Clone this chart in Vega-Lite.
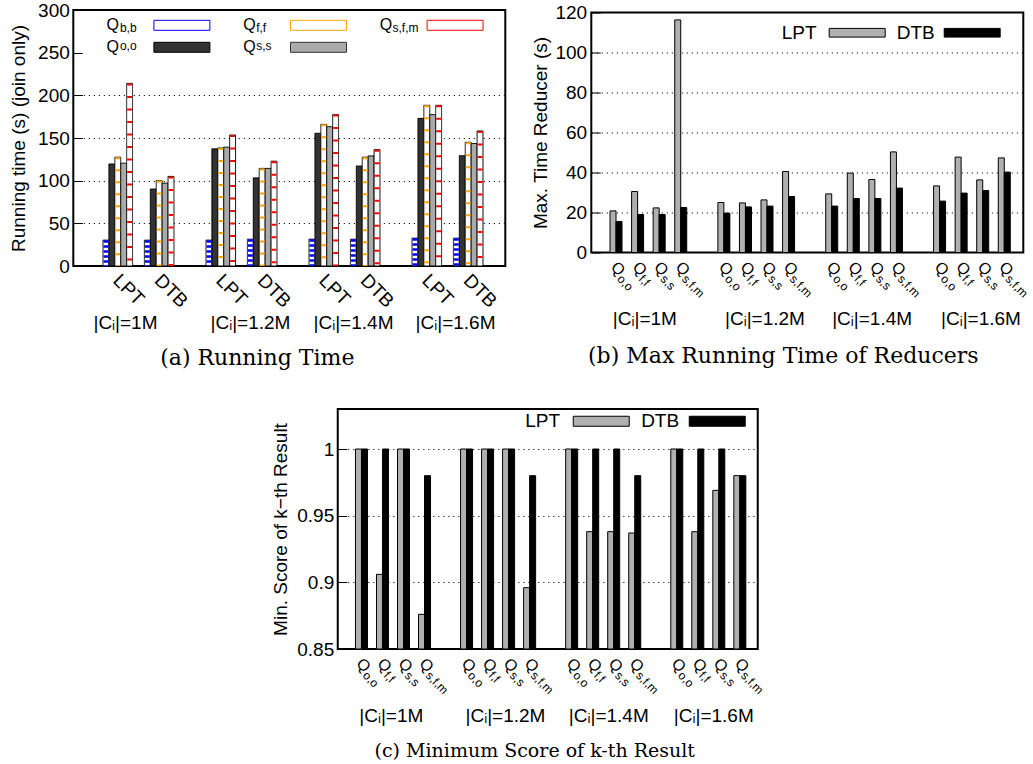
{
  "$schema": "https://vega.github.io/schema/vega-lite/v6.json",
  "background": "white",
  "padding": {"left": 8, "top": 0, "right": 0, "bottom": 0},
  "config": {
    "font": "Liberation Sans",
    "view": {"stroke": "black", "strokeWidth": 2},
    "axis": {"labelFont": "Liberation Sans", "titleFont": "Liberation Sans", "labelColor": "black", "titleColor": "black", "titleFontWeight": "normal", "labelFontSize": 19, "titleFontSize": 19},
    "legend": {"labelFont": "Liberation Sans", "labelColor": "black", "labelFontSize": 19, "padding": 0, "symbolStrokeWidth": 1, "labelLimit": 400},
    "title": {"font": "DejaVu Serif", "fontSize": 18, "fontWeight": "normal", "color": "black"}
  },
  "datasets": {
    "rt": [
      {"g": "1M", "m": "LPT", "q": "Qb,b", "k": "LPT|Qb,b", "v": 30.3},
      {"g": "1M", "m": "LPT", "q": "Qo,o", "k": "LPT|Qo,o", "v": 119.5},
      {"g": "1M", "m": "LPT", "q": "Qf,f", "k": "LPT|Qf,f", "v": 127.5},
      {"g": "1M", "m": "LPT", "q": "Qs,s", "k": "LPT|Qs,s", "v": 120.5},
      {"g": "1M", "m": "LPT", "q": "Qs,f,m", "k": "LPT|Qs,f,m", "v": 214},
      {"g": "1M", "m": "DTB", "q": "Qb,b", "k": "DTB|Qb,b", "v": 30.3},
      {"g": "1M", "m": "DTB", "q": "Qo,o", "k": "DTB|Qo,o", "v": 90.2},
      {"g": "1M", "m": "DTB", "q": "Qf,f", "k": "DTB|Qf,f", "v": 100.2},
      {"g": "1M", "m": "DTB", "q": "Qs,s", "k": "DTB|Qs,s", "v": 97.1},
      {"g": "1M", "m": "DTB", "q": "Qs,f,m", "k": "DTB|Qs,f,m", "v": 105},
      {"g": "1.2M", "m": "LPT", "q": "Qb,b", "k": "LPT|Qb,b", "v": 30.3},
      {"g": "1.2M", "m": "LPT", "q": "Qo,o", "k": "LPT|Qo,o", "v": 137.3},
      {"g": "1.2M", "m": "LPT", "q": "Qf,f", "k": "LPT|Qf,f", "v": 138.3},
      {"g": "1.2M", "m": "LPT", "q": "Qs,s", "k": "LPT|Qs,s", "v": 139.3},
      {"g": "1.2M", "m": "LPT", "q": "Qs,f,m", "k": "LPT|Qs,f,m", "v": 153.5},
      {"g": "1.2M", "m": "DTB", "q": "Qb,b", "k": "DTB|Qb,b", "v": 31.4},
      {"g": "1.2M", "m": "DTB", "q": "Qo,o", "k": "DTB|Qo,o", "v": 103.3},
      {"g": "1.2M", "m": "DTB", "q": "Qf,f", "k": "DTB|Qf,f", "v": 114.4},
      {"g": "1.2M", "m": "DTB", "q": "Qs,s", "k": "DTB|Qs,s", "v": 114.4},
      {"g": "1.2M", "m": "DTB", "q": "Qs,f,m", "k": "DTB|Qs,f,m", "v": 122.8},
      {"g": "1.4M", "m": "LPT", "q": "Qb,b", "k": "LPT|Qb,b", "v": 31.4},
      {"g": "1.4M", "m": "LPT", "q": "Qo,o", "k": "LPT|Qo,o", "v": 155.5},
      {"g": "1.4M", "m": "LPT", "q": "Qf,f", "k": "LPT|Qf,f", "v": 166},
      {"g": "1.4M", "m": "LPT", "q": "Qs,s", "k": "LPT|Qs,s", "v": 163.3},
      {"g": "1.4M", "m": "LPT", "q": "Qs,f,m", "k": "LPT|Qs,f,m", "v": 177.5},
      {"g": "1.4M", "m": "DTB", "q": "Qb,b", "k": "DTB|Qb,b", "v": 31.4},
      {"g": "1.4M", "m": "DTB", "q": "Qo,o", "k": "DTB|Qo,o", "v": 117.2},
      {"g": "1.4M", "m": "DTB", "q": "Qf,f", "k": "DTB|Qf,f", "v": 127.5},
      {"g": "1.4M", "m": "DTB", "q": "Qs,s", "k": "DTB|Qs,s", "v": 129},
      {"g": "1.4M", "m": "DTB", "q": "Qs,f,m", "k": "DTB|Qs,f,m", "v": 136.3},
      {"g": "1.6M", "m": "LPT", "q": "Qb,b", "k": "LPT|Qb,b", "v": 32.6},
      {"g": "1.6M", "m": "LPT", "q": "Qo,o", "k": "LPT|Qo,o", "v": 173},
      {"g": "1.6M", "m": "LPT", "q": "Qf,f", "k": "LPT|Qf,f", "v": 188.3},
      {"g": "1.6M", "m": "LPT", "q": "Qs,s", "k": "LPT|Qs,s", "v": 177.4},
      {"g": "1.6M", "m": "LPT", "q": "Qs,f,m", "k": "LPT|Qs,f,m", "v": 188.3},
      {"g": "1.6M", "m": "DTB", "q": "Qb,b", "k": "DTB|Qb,b", "v": 32.6},
      {"g": "1.6M", "m": "DTB", "q": "Qo,o", "k": "DTB|Qo,o", "v": 129.3},
      {"g": "1.6M", "m": "DTB", "q": "Qf,f", "k": "DTB|Qf,f", "v": 145},
      {"g": "1.6M", "m": "DTB", "q": "Qs,s", "k": "DTB|Qs,s", "v": 143.5},
      {"g": "1.6M", "m": "DTB", "q": "Qs,f,m", "k": "DTB|Qs,f,m", "v": 158.2}
    ],
    "mx": [
      {"g": "1M", "k": "1M|Qo,o", "m": "LPT", "v": 20.8}, {"g": "1M", "k": "1M|Qo,o", "m": "DTB", "v": 15.5},
      {"g": "1M", "k": "1M|Qf,f", "m": "LPT", "v": 30.5}, {"g": "1M", "k": "1M|Qf,f", "m": "DTB", "v": 19},
      {"g": "1M", "k": "1M|Qs,s", "m": "LPT", "v": 22.3}, {"g": "1M", "k": "1M|Qs,s", "m": "DTB", "v": 19},
      {"g": "1M", "k": "1M|Qs,f,m", "m": "LPT", "v": 116.3}, {"g": "1M", "k": "1M|Qs,f,m", "m": "DTB", "v": 22.5},
      {"g": "1.2M", "k": "1.2M|Qo,o", "m": "LPT", "v": 25}, {"g": "1.2M", "k": "1.2M|Qo,o", "m": "DTB", "v": 19.7},
      {"g": "1.2M", "k": "1.2M|Qf,f", "m": "LPT", "v": 24.8}, {"g": "1.2M", "k": "1.2M|Qf,f", "m": "DTB", "v": 22.8},
      {"g": "1.2M", "k": "1.2M|Qs,s", "m": "LPT", "v": 26.3}, {"g": "1.2M", "k": "1.2M|Qs,s", "m": "DTB", "v": 23.2},
      {"g": "1.2M", "k": "1.2M|Qs,f,m", "m": "LPT", "v": 40.5}, {"g": "1.2M", "k": "1.2M|Qs,f,m", "m": "DTB", "v": 28},
      {"g": "1.4M", "k": "1.4M|Qo,o", "m": "LPT", "v": 29.3}, {"g": "1.4M", "k": "1.4M|Qo,o", "m": "DTB", "v": 23.2},
      {"g": "1.4M", "k": "1.4M|Qf,f", "m": "LPT", "v": 39.7}, {"g": "1.4M", "k": "1.4M|Qf,f", "m": "DTB", "v": 27},
      {"g": "1.4M", "k": "1.4M|Qs,s", "m": "LPT", "v": 36.5}, {"g": "1.4M", "k": "1.4M|Qs,s", "m": "DTB", "v": 27},
      {"g": "1.4M", "k": "1.4M|Qs,f,m", "m": "LPT", "v": 50.3}, {"g": "1.4M", "k": "1.4M|Qs,f,m", "m": "DTB", "v": 32.2},
      {"g": "1.6M", "k": "1.6M|Qo,o", "m": "LPT", "v": 33.3}, {"g": "1.6M", "k": "1.6M|Qo,o", "m": "DTB", "v": 25.7},
      {"g": "1.6M", "k": "1.6M|Qf,f", "m": "LPT", "v": 47.7}, {"g": "1.6M", "k": "1.6M|Qf,f", "m": "DTB", "v": 29.7},
      {"g": "1.6M", "k": "1.6M|Qs,s", "m": "LPT", "v": 36.3}, {"g": "1.6M", "k": "1.6M|Qs,s", "m": "DTB", "v": 31},
      {"g": "1.6M", "k": "1.6M|Qs,f,m", "m": "LPT", "v": 47.3}, {"g": "1.6M", "k": "1.6M|Qs,f,m", "m": "DTB", "v": 40.2}
    ],
    "ms": [
      {"g": "1M", "k": "1M|Qo,o", "m": "LPT", "v": 1}, {"g": "1M", "k": "1M|Qo,o", "m": "DTB", "v": 1},
      {"g": "1M", "k": "1M|Qf,f", "m": "LPT", "v": 0.906}, {"g": "1M", "k": "1M|Qf,f", "m": "DTB", "v": 1},
      {"g": "1M", "k": "1M|Qs,s", "m": "LPT", "v": 1}, {"g": "1M", "k": "1M|Qs,s", "m": "DTB", "v": 1},
      {"g": "1M", "k": "1M|Qs,f,m", "m": "LPT", "v": 0.876}, {"g": "1M", "k": "1M|Qs,f,m", "m": "DTB", "v": 0.98},
      {"g": "1.2M", "k": "1.2M|Qo,o", "m": "LPT", "v": 1}, {"g": "1.2M", "k": "1.2M|Qo,o", "m": "DTB", "v": 1},
      {"g": "1.2M", "k": "1.2M|Qf,f", "m": "LPT", "v": 1}, {"g": "1.2M", "k": "1.2M|Qf,f", "m": "DTB", "v": 1},
      {"g": "1.2M", "k": "1.2M|Qs,s", "m": "LPT", "v": 1}, {"g": "1.2M", "k": "1.2M|Qs,s", "m": "DTB", "v": 1},
      {"g": "1.2M", "k": "1.2M|Qs,f,m", "m": "LPT", "v": 0.896}, {"g": "1.2M", "k": "1.2M|Qs,f,m", "m": "DTB", "v": 0.98},
      {"g": "1.4M", "k": "1.4M|Qo,o", "m": "LPT", "v": 1}, {"g": "1.4M", "k": "1.4M|Qo,o", "m": "DTB", "v": 1},
      {"g": "1.4M", "k": "1.4M|Qf,f", "m": "LPT", "v": 0.938}, {"g": "1.4M", "k": "1.4M|Qf,f", "m": "DTB", "v": 1},
      {"g": "1.4M", "k": "1.4M|Qs,s", "m": "LPT", "v": 0.938}, {"g": "1.4M", "k": "1.4M|Qs,s", "m": "DTB", "v": 1},
      {"g": "1.4M", "k": "1.4M|Qs,f,m", "m": "LPT", "v": 0.937}, {"g": "1.4M", "k": "1.4M|Qs,f,m", "m": "DTB", "v": 0.98},
      {"g": "1.6M", "k": "1.6M|Qo,o", "m": "LPT", "v": 1}, {"g": "1.6M", "k": "1.6M|Qo,o", "m": "DTB", "v": 1},
      {"g": "1.6M", "k": "1.6M|Qf,f", "m": "LPT", "v": 0.938}, {"g": "1.6M", "k": "1.6M|Qf,f", "m": "DTB", "v": 1},
      {"g": "1.6M", "k": "1.6M|Qs,s", "m": "LPT", "v": 0.969}, {"g": "1.6M", "k": "1.6M|Qs,s", "m": "DTB", "v": 1},
      {"g": "1.6M", "k": "1.6M|Qs,f,m", "m": "LPT", "v": 0.98}, {"g": "1.6M", "k": "1.6M|Qs,f,m", "m": "DTB", "v": 0.98}
    ]
  },
  "spacing": 38,
  "center": true,
  "resolve": {"scale": {"fill": "independent", "stroke": "independent", "xOffset": "independent", "strokeDash": "independent", "x": "independent", "y": "independent"}, "legend": {"fill": "independent", "stroke": "independent", "strokeDash": "independent"}},
  "vconcat": [
    {
      "spacing": 23,
      "center": true,
      "resolve": {"scale": {"fill": "independent", "stroke": "independent", "xOffset": "independent", "strokeDash": "independent", "x": "independent", "y": "independent"}, "legend": {"fill": "independent", "stroke": "independent", "strokeDash": "independent"}},
      "hconcat": [
        {
          "width": 432,
          "height": 256,
          "data": {"name": "rt"},
          "title": {"text": "(a) Running Time", "orient": "bottom", "anchor": "middle", "frame": "group", "dx": -32, "offset": 16, "fontSize": 22},
          "resolve": {"axis": {"x": "independent"}},
          "layer": [
            {
              "mark": {"type": "bar", "stroke": "black", "strokeWidth": 1},
              "encoding": {
                "x": {"field": "g", "type": "nominal",
                  "scale": {"domain": ["1M", "1.2M", "1.4M", "1.6M"], "paddingInner": 0.311, "paddingOuter": 0.2524, "align": 0.571, "round": false},
                  "axis": {"orient": "bottom", "title": null, "domain": false, "ticks": false, "grid": false, "labelExpr": "'LPT'", "labelAngle": 45, "labelAlign": "left", "labelBaseline": "middle", "labelFontSize": 19, "labelOffset": -22.2, "labelPadding": 11, "labelOverlap": false, "labelBound": false, "labelFlush": false}},
                "xOffset": {"field": "k", "type": "nominal",
                  "scale": {"domain": ["LPT|Qb,b", "LPT|Qo,o", "LPT|Qf,f", "LPT|Qs,s", "LPT|Qs,f,m", "sp1", "sp2", "DTB|Qb,b", "DTB|Qo,o", "DTB|Qf,f", "DTB|Qs,s", "DTB|Qs,f,m"], "paddingInner": 0, "paddingOuter": 0, "round": false}},
                "y": {"field": "v", "type": "quantitative", "scale": {"domain": [0, 300], "nice": false},
                  "axis": {"orient": "left", "title": "Running time (s) (join only)", "values": [0, 50, 100, 150, 200, 250, 300], "tickCount": 8, "labelOverlap": false, "domain": false, "ticks": true, "tickSize": -9, "tickColor": "black", "tickWidth": 1, "labelPadding": 13, "titlePadding": 9, "grid": true, "gridColor": "black", "gridWidth": 1, "gridDash": [1.2, 3.8],
                    "gridOpacity": {"condition": {"test": "datum.value===0||datum.value===250||datum.value===300", "value": 0}, "value": 0.9}}},
                "fill": {"field": "q", "type": "nominal",
                  "scale": {"domain": ["Qb,b", "Qf,f", "Qs,f,m", "Qo,o", "Qs,s"], "range": ["#ffffff", "#ffffff", "#ffffff", "#333333", "#aaaaaa"]},
                  "legend": {"orient": "none", "legendX": 27.3, "legendY": 7.3, "title": null, "columns": 3, "direction": "horizontal", "columnPadding": 24.6, "rowPadding": -6.7, "padding": 0,
                    "symbolType": "M9.06,-2.4l0.001,0M9.06,2.4l0.001,0M9.06,-1H20.26V1H9.06Z", "symbolSize": 100, "symbolStrokeWidth": 1,
                    "labelExpr": "'Q'", "labelFontSize": 16, "labelOffset": -10, "labelAlign": "left", "labelBaseline": "middle"}},
                "strokeDash": {"field": "q", "type": "nominal", "sort": ["Qb,b", "Qf,f", "Qs,f,m", "Qo,o", "Qs,s"],
                  "scale": {"range": [[1, 0], [1, 0], [1, 0], [1, 0], [1, 0]]},
                  "legend": {"orient": "none", "legendX": 27.3, "legendY": 7.3, "title": null, "columns": 3, "direction": "horizontal", "columnPadding": 28.3, "rowPadding": -6.7, "padding": 0,
                    "symbolType": "M9.06,-2.4l0.001,0M9.06,2.4l0.001,0M9.06,-1H20.26V1H9.06Z", "symbolSize": 100, "symbolOpacity": 0, "symbolStrokeWidth": 1,
                    "labelExpr": "substring(datum.value, 1)", "labelFontSize": 12, "labelOffset": 7.3, "labelAlign": "left", "labelBaseline": "top"}}
              }
            },
            {
              "transform": [{"filter": "datum.q === 'Qf,f'"}],
              "mark": {"type": "rule", "strokeWidth": 4.9, "strokeDash": [2, 10], "strokeCap": "butt"},
              "encoding": {
                "x": {"field": "g", "type": "nominal",
                  "axis": {"orient": "bottom", "title": null, "domain": false, "ticks": false, "grid": false, "labelExpr": "'DTB'", "labelAngle": 45, "labelAlign": "left", "labelBaseline": "middle", "labelFontSize": 19, "labelOffset": 19.2, "labelPadding": 11, "labelOverlap": false, "labelBound": false, "labelFlush": false}},
                "xOffset": {"field": "k", "type": "nominal"},
                "y": {"field": "v", "type": "quantitative"},
                "y2": {"datum": 0},
                "stroke": {"field": "q", "type": "nominal", "scale": {"domain": ["Qb,b", "Qf,f", "Qs,f,m", "Qo,o", "Qs,s"], "range": ["#0000ff", "#ffa500", "#ff0000", "#000000", "#333333"]}}
              }
            },
            {
              "transform": [{"filter": "datum.q === 'Qs,f,m'"}],
              "mark": {"type": "rule", "strokeWidth": 4.9, "strokeDash": [2, 10.5], "strokeCap": "butt"},
              "encoding": {
                "x": {"field": "g", "type": "nominal",
                  "axis": {"orient": "bottom", "title": null, "domain": false, "ticks": false, "grid": false, "labelExpr": "'|C\u1d62|=' + datum.value", "labelAngle": 0, "labelAlign": "center", "labelBaseline": "top", "labelFontSize": 19, "labelPadding": 47,
                    "labelOffset": {"condition": [{"test": "datum.value==='1M'", "value": -13}, {"test": "datum.value==='1.2M'", "value": 9}, {"test": "datum.value==='1.4M'", "value": 9}], "value": 8},
                    "labelOverlap": false, "labelBound": false, "labelFlush": false}},
                "xOffset": {"field": "k", "type": "nominal"},
                "y": {"field": "v", "type": "quantitative"},
                "y2": {"datum": 0},
                "stroke": {"field": "q", "type": "nominal"}
              }
            },
            {
              "transform": [{"filter": "datum.q === 'Qb,b'"}],
              "mark": {"type": "rule", "strokeWidth": 4.9, "strokeDash": [2.5, 2.5], "strokeCap": "butt"},
              "encoding": {
                "x": {"field": "g", "type": "nominal", "axis": null},
                "xOffset": {"field": "k", "type": "nominal"},
                "y": {"field": "v", "type": "quantitative"},
                "y2": {"datum": 0},
                "stroke": {"field": "q", "type": "nominal"}
              }
            }
          ]
        },
        {
          "width": 432,
          "height": 240,
          "data": {"name": "mx"},
          "title": {"text": "(b) Max Running Time of Reducers", "orient": "bottom", "anchor": "middle", "frame": "group", "dx": -24, "offset": 17, "fontSize": 22},
          "resolve": {"axis": {"x": "independent"}},
          "layer": [
            {
              "transform": [{"filter": "datum.g === '1M'"}],
              "mark": {"type": "bar", "stroke": "black", "strokeWidth": 1},
              "encoding": {
                "x": {"field": "k", "type": "nominal",
                  "scale": {"domain": ["1M|Qo,o", "1M|Qf,f", "1M|Qs,s", "1M|Qs,f,m", "gap1", "1.2M|Qo,o", "1.2M|Qf,f", "1.2M|Qs,s", "1.2M|Qs,f,m", "gap2", "1.4M|Qo,o", "1.4M|Qf,f", "1.4M|Qs,s", "1.4M|Qs,f,m", "gap3", "1.6M|Qo,o", "1.6M|Qf,f", "1.6M|Qs,s", "1.6M|Qs,f,m"], "paddingInner": 0.4437, "paddingOuter": 0.736, "align": 0.59, "round": false},
                  "axis": {"orient": "bottom", "title": null, "domain": false, "ticks": false, "grid": false, "labelExpr": "indexof(datum.value,'|')>0 ? 'Q' : ''", "labelAngle": 45, "labelAlign": "left", "labelBaseline": "middle", "labelFontSize": 16, "labelOffset": -2.4, "labelPadding": 11.4, "labelOverlap": false, "labelBound": false, "labelFlush": false}},
                "xOffset": {"field": "m", "type": "nominal", "scale": {"domain": ["LPT", "DTB"], "paddingInner": 0, "paddingOuter": 0, "round": false}},
                "y": {"field": "v", "type": "quantitative", "scale": {"domain": [0, 120], "nice": false},
                  "axis": {"orient": "left", "title": "Max. Time Reducer (s)", "values": [0, 20, 40, 60, 80, 100, 120], "tickCount": 8, "labelOverlap": false, "domain": false, "ticks": true, "tickSize": -9, "tickColor": "black", "tickWidth": 1, "labelPadding": 13.7, "titlePadding": 4.6, "grid": true, "gridColor": "black", "gridWidth": 1, "gridDash": [1.2, 3.8],
                    "gridOpacity": {"condition": {"test": "datum.value===0||datum.value===120", "value": 0}, "value": 0.9}}},
                "fill": {"field": "m", "type": "nominal", "scale": {"domain": ["LPT", "DTB"], "range": ["#b0b0b0", "#000000"]},
                  "legend": {"orient": "none", "legendX": 181.4, "legendY": 10.5, "title": null, "columns": 2, "direction": "horizontal", "columnPadding": -6, "padding": 0,
                    "symbolType": "M9.4,-0.87H20.6V0.87H9.4Z", "symbolSize": 100, "symbolStrokeWidth": 1, "symbolStrokeColor": "#000000",
                    "labelFontSize": 19, "labelOffset": -10, "labelAlign": "left", "labelBaseline": "middle"}}
              }
            },
            {
              "transform": [{"filter": "datum.g === '1.2M'"}],
              "mark": {"type": "bar", "stroke": "black", "strokeWidth": 1},
              "encoding": {
                "x": {"field": "k", "type": "nominal",
                  "axis": {"orient": "bottom", "title": null, "domain": false, "ticks": false, "grid": false, "labelExpr": "indexof(datum.value,'|')>0 ? substring(datum.value, indexof(datum.value,'|')+2) : ''", "labelAngle": 45, "labelAlign": "left", "labelBaseline": "middle", "labelFontSize": 12, "labelOffset": 3.3, "labelPadding": 24, "labelOverlap": false, "labelBound": false, "labelFlush": false}},
                "xOffset": {"field": "m", "type": "nominal"},
                "y": {"field": "v", "type": "quantitative"},
                "fill": {"field": "m", "type": "nominal"}
              }
            },
            {
              "transform": [{"filter": "datum.g === '1.4M'"}],
              "mark": {"type": "bar", "stroke": "black", "strokeWidth": 1},
              "encoding": {
                "x": {"field": "k", "type": "nominal",
                  "axis": {"orient": "bottom", "title": null, "domain": false, "ticks": false, "grid": false, "labelExpr": "indexof(datum.value,'|Qf,f')>0 ? '|C\u1d62|=' + substring(datum.value, 0, indexof(datum.value,'|')) : ''", "labelAngle": 0, "labelAlign": "center", "labelBaseline": "top", "labelFontSize": 19, "labelPadding": 57,
                    "labelOffset": {"condition": [{"test": "datum.value==='1M|Qf,f'", "value": 7.3}, {"test": "datum.value==='1.2M|Qf,f'", "value": 19.5}, {"test": "datum.value==='1.4M|Qf,f'", "value": 18.8}], "value": 19.8},
                    "labelOverlap": false, "labelBound": false, "labelFlush": false}},
                "xOffset": {"field": "m", "type": "nominal"},
                "y": {"field": "v", "type": "quantitative"},
                "fill": {"field": "m", "type": "nominal"}
              }
            },
            {
              "transform": [{"filter": "datum.g === '1.6M'"}],
              "mark": {"type": "bar", "stroke": "black", "strokeWidth": 1},
              "encoding": {
                "x": {"field": "k", "type": "nominal", "axis": null},
                "xOffset": {"field": "m", "type": "nominal"},
                "y": {"field": "v", "type": "quantitative"},
                "fill": {"field": "m", "type": "nominal"}
              }
            }
          ]
        }
      ]
    },
    {
      "width": 420,
      "height": 240,
      "data": {"name": "ms"},
      "title": {"text": "(c) Minimum Score of k-th Result", "orient": "bottom", "anchor": "middle", "frame": "group", "dx": -13, "offset": 17, "fontSize": 19},
      "resolve": {"axis": {"x": "independent"}},
      "layer": [
        {
          "transform": [{"filter": "datum.g === '1M'"}],
          "mark": {"type": "bar", "stroke": "black", "strokeWidth": 1},
          "encoding": {
            "x": {"field": "k", "type": "nominal",
              "scale": {"domain": ["1M|Qo,o", "1M|Qf,f", "1M|Qs,s", "1M|Qs,f,m", "gap1", "1.2M|Qo,o", "1.2M|Qf,f", "1.2M|Qs,s", "1.2M|Qs,f,m", "gap2", "1.4M|Qo,o", "1.4M|Qf,f", "1.4M|Qs,s", "1.4M|Qs,f,m", "gap3", "1.6M|Qo,o", "1.6M|Qf,f", "1.6M|Qs,s", "1.6M|Qs,f,m"], "paddingInner": 0.429, "paddingOuter": 0.705, "align": 0.598, "round": false},
              "axis": {"orient": "bottom", "title": null, "domain": false, "ticks": false, "grid": false, "labelExpr": "indexof(datum.value,'|')>0 ? 'Q' : ''", "labelAngle": 45, "labelAlign": "left", "labelBaseline": "middle", "labelFontSize": 16, "labelOffset": -2.4, "labelPadding": 11.4, "labelOverlap": false, "labelBound": false, "labelFlush": false}},
            "xOffset": {"field": "m", "type": "nominal", "scale": {"domain": ["LPT", "DTB"], "paddingInner": 0, "paddingOuter": 0, "round": false}},
            "y": {"field": "v", "type": "quantitative", "scale": {"domain": [0.85, 1.03], "nice": false, "zero": false},
              "axis": {"orient": "left", "title": "Min. Score of k\u2212th Result", "values": [0.85, 0.9, 0.95, 1], "tickCount": 8, "format": "~g", "labelOverlap": false, "domain": false, "ticks": true, "tickSize": -9, "tickColor": "black", "tickWidth": 1, "labelPadding": 13, "titlePadding": 6, "grid": true, "gridColor": "black", "gridWidth": 1, "gridDash": [1.2, 3.8],
                "gridOpacity": {"condition": {"test": "datum.value<0.86", "value": 0}, "value": 0.9}}},
            "y2": {"datum": 0.85},
            "fill": {"field": "m", "type": "nominal", "scale": {"domain": ["LPT", "DTB"], "range": ["#b0b0b0", "#000000"]},
              "legend": {"orient": "none", "legendX": 178.4, "legendY": 2.5, "title": null, "columns": 2, "direction": "horizontal", "columnPadding": -2.6, "padding": 0,
                "symbolType": "M9.52,-1H20.72V1H9.52Z", "symbolSize": 100, "symbolStrokeWidth": 1, "symbolStrokeColor": "#000000",
                "labelFontSize": 19, "labelOffset": -10, "labelAlign": "left", "labelBaseline": "middle"}}
          }
        },
        {
          "transform": [{"filter": "datum.g === '1.2M'"}],
          "mark": {"type": "bar", "stroke": "black", "strokeWidth": 1},
          "encoding": {
            "x": {"field": "k", "type": "nominal",
              "axis": {"orient": "bottom", "title": null, "domain": false, "ticks": false, "grid": false, "labelExpr": "indexof(datum.value,'|')>0 ? substring(datum.value, indexof(datum.value,'|')+2) : ''", "labelAngle": 45, "labelAlign": "left", "labelBaseline": "middle", "labelFontSize": 12, "labelOffset": 3.3, "labelPadding": 24, "labelOverlap": false, "labelBound": false, "labelFlush": false}},
            "xOffset": {"field": "m", "type": "nominal"},
            "y": {"field": "v", "type": "quantitative"},
            "y2": {"datum": 0.85},
            "fill": {"field": "m", "type": "nominal"}
          }
        },
        {
          "transform": [{"filter": "datum.g === '1.4M'"}],
          "mark": {"type": "bar", "stroke": "black", "strokeWidth": 1},
          "encoding": {
            "x": {"field": "k", "type": "nominal",
              "axis": {"orient": "bottom", "title": null, "domain": false, "ticks": false, "grid": false, "labelExpr": "indexof(datum.value,'|Qf,f')>0 ? '|C\u1d62|=' + substring(datum.value, 0, indexof(datum.value,'|')) : ''", "labelAngle": 0, "labelAlign": "center", "labelBaseline": "top", "labelFontSize": 19, "labelPadding": 57,
                "labelOffset": {"condition": [{"test": "datum.value==='1M|Qf,f'", "value": 8.8}, {"test": "datum.value==='1.2M|Qf,f'", "value": 17.9}, {"test": "datum.value==='1.4M|Qf,f'", "value": 16.1}], "value": 16},
                "labelOverlap": false, "labelBound": false, "labelFlush": false}},
            "xOffset": {"field": "m", "type": "nominal"},
            "y": {"field": "v", "type": "quantitative"},
            "y2": {"datum": 0.85},
            "fill": {"field": "m", "type": "nominal"}
          }
        },
        {
          "transform": [{"filter": "datum.g === '1.6M'"}],
          "mark": {"type": "bar", "stroke": "black", "strokeWidth": 1},
          "encoding": {
            "x": {"field": "k", "type": "nominal", "axis": null},
            "xOffset": {"field": "m", "type": "nominal"},
            "y": {"field": "v", "type": "quantitative"},
            "y2": {"datum": 0.85},
            "fill": {"field": "m", "type": "nominal"}
          }
        }
      ]
    }
  ]
}
